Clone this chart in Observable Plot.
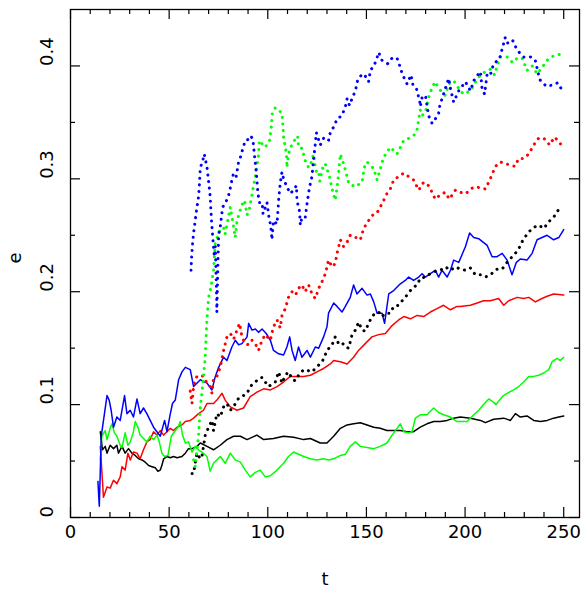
<!DOCTYPE html>
<html><head><meta charset="utf-8">
<script src="https://cdn.jsdelivr.net/npm/d3@7"></script>
<script src="https://cdn.jsdelivr.net/npm/@observablehq/plot@0.6"></script>
<style>body{margin:0;background:#fff}</style>
</head><body><div id="chart"></div>
<script>
const xMajorTicks = [0, 50, 100, 150, 200, 250];
const xMinorTicks = [10, 20, 30, 40, 60, 70, 80, 90, 110, 120, 130, 140, 160, 170, 180, 190, 210, 220, 230, 240];
const yMajorTicks = [0, 0.1, 0.2, 0.3, 0.4];
const yMinorTicks = [0.05, 0.15, 0.25, 0.35];
const xLabel = "t";
const yLabel = "e";

const blueSolid = [[13.9,0.032],[14.6,0.010],[15.6,0.072],[18.5,0.108],[19.6,0.104],[20.6,0.095],[21.8,0.080],[23.5,0.089],[25.2,0.086],[27.4,0.108],[28.6,0.092],[30.3,0.095],[31.9,0.089],[33.7,0.105],[35.3,0.092],[37.0,0.097],[38.7,0.092],[40.4,0.086],[42.1,0.080],[43.8,0.076],[45.5,0.072],[47.7,0.086],[48.9,0.076],[50.6,0.092],[51.7,0.101],[53.1,0.104],[54.8,0.122],[56.5,0.129],[58.2,0.133],[60.7,0.131],[62.4,0.116],[65.8,0.122],[69.2,0.119],[71.7,0.113],[73.4,0.125],[75.1,0.133],[77.6,0.142],[79.3,0.139],[81.8,0.151],[83.5,0.157],[85.2,0.153],[86.9,0.154],[89.5,0.160],[90.3,0.172],[92.0,0.166],[93.7,0.167],[95.3,0.164],[97.1,0.167],[99.2,0.163],[101.3,0.157],[102.9,0.148],[105.5,0.145],[108.0,0.144],[109.7,0.151],[111.1,0.160],[112.3,0.148],[113.9,0.139],[115.6,0.151],[117.3,0.142],[119.9,0.148],[121.6,0.142],[124.1,0.151],[125.8,0.150],[128.3,0.160],[130.0,0.169],[130.8,0.181],[133.4,0.190],[135.1,0.187],[137.6,0.182],[139.3,0.187],[141.8,0.195],[143.5,0.206],[145.2,0.198],[147.8,0.203],[150.3,0.197],[152.0,0.198],[153.7,0.191],[155.4,0.181],[157.9,0.181],[159.2,0.172],[161.3,0.198],[163.8,0.201],[167.2,0.207],[169.7,0.210],[171.4,0.213],[173.9,0.210],[176.5,0.213],[178.2,0.216],[179.9,0.213],[182.4,0.216],[184.9,0.219],[186.6,0.213],[188.3,0.219],[190.9,0.213],[192.6,0.219],[194.2,0.228],[196.8,0.226],[200.2,0.240],[202.3,0.252],[204.4,0.248],[206.9,0.247],[209.1,0.244],[211.2,0.241],[213.7,0.231],[216.2,0.231],[218.8,0.234],[221.3,0.228],[223.8,0.215],[226.0,0.226],[228.0,0.229],[231.4,0.228],[234.0,0.234],[236.5,0.246],[239.0,0.248],[241.6,0.250],[244.9,0.246],[247.5,0.248],[250.0,0.255]];

const redSolid = [[15.1,0.063],[16.7,0.018],[18.5,0.027],[20.1,0.026],[21.8,0.033],[23.5,0.030],[25.2,0.036],[26.1,0.045],[27.7,0.042],[29.1,0.057],[30.3,0.051],[31.9,0.058],[33.7,0.057],[35.3,0.052],[37.0,0.060],[38.7,0.067],[40.4,0.069],[42.1,0.076],[43.8,0.073],[45.5,0.077],[47.2,0.073],[48.9,0.076],[50.6,0.079],[52.2,0.077],[54.0,0.080],[56.5,0.082],[58.2,0.085],[60.7,0.086],[62.4,0.088],[64.9,0.092],[67.4,0.095],[69.2,0.101],[72.5,0.101],[74.2,0.104],[76.8,0.110],[78.4,0.104],[81.0,0.098],[84.4,0.095],[87.7,0.097],[91.1,0.107],[94.5,0.111],[97.9,0.114],[101.3,0.113],[104.7,0.116],[108.0,0.120],[111.4,0.125],[114.8,0.125],[118.2,0.125],[121.6,0.126],[124.9,0.129],[128.3,0.132],[131.7,0.136],[133.4,0.139],[136.8,0.138],[140.2,0.136],[143.5,0.142],[146.0,0.148],[149.4,0.154],[152.8,0.160],[156.2,0.162],[159.6,0.163],[163.0,0.170],[166.3,0.175],[168.9,0.178],[172.3,0.176],[175.7,0.179],[179.0,0.178],[182.4,0.182],[185.8,0.185],[189.1,0.188],[192.6,0.184],[195.9,0.187],[197.6,0.187],[202.7,0.188],[206.1,0.190],[209.4,0.192],[212.8,0.192],[217.0,0.194],[219.6,0.188],[222.1,0.192],[226.4,0.195],[229.7,0.194],[232.3,0.195],[235.6,0.191],[239.0,0.194],[241.6,0.196],[244.9,0.198],[250.0,0.197]];

const blackSolid = [[15.1,0.076],[16.2,0.060],[17.6,0.063],[18.5,0.057],[20.1,0.064],[21.8,0.061],[23.5,0.064],[24.3,0.057],[26.1,0.063],[27.7,0.057],[29.4,0.061],[31.1,0.057],[32.8,0.055],[34.5,0.052],[36.2,0.051],[37.9,0.049],[39.6,0.046],[41.3,0.045],[43.0,0.044],[44.3,0.041],[45.5,0.042],[46.3,0.046],[47.2,0.052],[48.9,0.054],[50.6,0.053],[52.2,0.054],[54.0,0.053],[56.5,0.054],[58.2,0.057],[59.8,0.061],[61.6,0.061],[64.1,0.063],[65.8,0.066],[69.2,0.063],[72.5,0.060],[75.9,0.064],[79.3,0.069],[82.7,0.072],[86.1,0.072],[89.5,0.069],[94.5,0.073],[97.9,0.069],[102.9,0.070],[108.0,0.072],[113.1,0.071],[118.2,0.069],[121.6,0.070],[126.6,0.066],[130.0,0.066],[133.4,0.072],[136.8,0.079],[140.2,0.082],[143.5,0.083],[146.9,0.084],[150.3,0.082],[153.7,0.080],[157.0,0.079],[160.4,0.077],[167.2,0.077],[170.6,0.076],[173.9,0.076],[177.3,0.080],[180.7,0.083],[184.1,0.085],[187.5,0.085],[190.9,0.086],[194.2,0.088],[197.6,0.089],[202.7,0.088],[207.8,0.086],[210.3,0.084],[214.5,0.087],[219.6,0.088],[223.0,0.086],[225.5,0.092],[228.0,0.089],[231.4,0.090],[234.8,0.086],[238.2,0.085],[241.6,0.086],[244.9,0.088],[247.5,0.089],[250.0,0.090]];

const greenSolid = [[15.1,0.051],[15.9,0.072],[17.6,0.077],[18.5,0.069],[20.1,0.079],[21.0,0.083],[22.3,0.075],[23.5,0.072],[25.2,0.064],[26.1,0.062],[27.7,0.075],[29.1,0.064],[30.3,0.067],[31.9,0.076],[32.8,0.085],[34.2,0.080],[35.3,0.073],[37.0,0.070],[38.7,0.067],[40.4,0.072],[42.1,0.069],[43.8,0.073],[45.0,0.067],[46.3,0.057],[47.7,0.054],[49.4,0.055],[51.1,0.072],[52.7,0.076],[54.5,0.080],[55.6,0.085],[56.8,0.073],[58.2,0.066],[59.8,0.067],[61.6,0.058],[63.2,0.063],[64.9,0.060],[66.6,0.058],[69.2,0.054],[70.8,0.041],[72.5,0.048],[75.9,0.054],[78.4,0.048],[81.0,0.057],[83.5,0.051],[86.1,0.049],[88.6,0.042],[91.1,0.036],[93.7,0.040],[96.2,0.042],[98.7,0.036],[101.3,0.037],[104.7,0.042],[108.0,0.048],[110.5,0.054],[113.1,0.058],[115.6,0.056],[118.2,0.054],[121.6,0.052],[124.9,0.051],[128.3,0.052],[130.8,0.051],[133.4,0.052],[136.8,0.055],[139.3,0.056],[141.8,0.063],[144.4,0.067],[146.9,0.063],[150.3,0.062],[153.7,0.061],[157.0,0.063],[160.4,0.066],[163.0,0.073],[165.5,0.079],[167.2,0.083],[168.9,0.076],[171.4,0.075],[173.1,0.076],[174.8,0.088],[177.3,0.091],[180.7,0.091],[184.1,0.097],[186.6,0.093],[189.1,0.091],[192.6,0.089],[195.9,0.085],[197.6,0.085],[201.0,0.085],[204.4,0.091],[206.9,0.095],[209.4,0.100],[212.0,0.105],[214.5,0.102],[215.7,0.100],[218.8,0.107],[221.3,0.110],[224.6,0.113],[227.2,0.116],[229.7,0.120],[232.3,0.125],[234.8,0.125],[237.3,0.126],[239.9,0.128],[242.4,0.131],[244.1,0.138],[246.7,0.141],[248.3,0.139],[250.0,0.142]];

const blackDotted = [[61.6,0.039],[62.4,0.039],[63.2,0.048],[64.1,0.057],[65.8,0.052],[66.6,0.054],[68.3,0.073],[70.0,0.080],[71.7,0.086],[72.5,0.077],[74.2,0.092],[75.9,0.089],[77.6,0.098],[79.3,0.101],[81.0,0.095],[82.7,0.098],[84.4,0.104],[86.1,0.107],[87.7,0.108],[89.5,0.110],[91.1,0.116],[93.7,0.120],[95.3,0.123],[97.1,0.124],[98.7,0.120],[100.4,0.116],[102.1,0.118],[103.8,0.120],[105.5,0.129],[107.2,0.119],[108.9,0.126],[110.5,0.129],[112.3,0.123],[113.9,0.121],[115.6,0.126],[118.2,0.131],[120.7,0.130],[122.4,0.129],[124.1,0.132],[125.8,0.135],[127.5,0.138],[128.7,0.142],[130.0,0.148],[132.6,0.153],[134.2,0.160],[135.9,0.154],[137.6,0.155],[139.3,0.151],[141.0,0.150],[142.7,0.162],[144.4,0.166],[146.0,0.173],[147.8,0.166],[149.4,0.165],[151.1,0.172],[152.8,0.178],[154.5,0.181],[156.2,0.182],[157.9,0.178],[159.6,0.181],[162.1,0.181],[163.8,0.187],[166.3,0.188],[168.1,0.192],[170.6,0.197],[173.1,0.203],[175.7,0.206],[177.3,0.212],[179.9,0.213],[182.4,0.216],[184.9,0.218],[187.5,0.219],[190.0,0.222],[192.6,0.219],[195.1,0.222],[197.6,0.220],[200.2,0.219],[202.7,0.221],[205.2,0.215],[207.8,0.215],[210.3,0.213],[212.8,0.215],[216.2,0.220],[218.8,0.220],[222.1,0.228],[224.6,0.232],[227.2,0.238],[229.4,0.246],[232.3,0.253],[234.8,0.257],[237.3,0.259],[239.9,0.256],[242.4,0.262],[244.9,0.266],[247.5,0.273]];

const redDotted = [[60.7,0.112],[61.6,0.101],[62.4,0.116],[63.2,0.122],[64.1,0.125],[65.8,0.126],[67.4,0.125],[69.2,0.119],[70.8,0.116],[71.7,0.110],[72.5,0.123],[74.2,0.125],[75.9,0.133],[77.6,0.148],[79.3,0.160],[81.0,0.163],[82.7,0.158],[84.4,0.166],[85.7,0.172],[86.9,0.160],[88.6,0.154],[90.3,0.153],[92.0,0.157],[93.7,0.154],[95.3,0.148],[97.1,0.157],[98.7,0.162],[101.3,0.157],[102.9,0.169],[104.7,0.175],[106.3,0.168],[107.2,0.179],[108.9,0.185],[110.5,0.195],[112.3,0.200],[114.0,0.197],[115.6,0.203],[117.3,0.206],[118.9,0.200],[120.7,0.206],[122.4,0.198],[124.1,0.194],[125.8,0.203],[127.5,0.209],[129.2,0.216],[130.8,0.228],[132.6,0.222],[134.2,0.225],[135.1,0.234],[136.8,0.246],[138.4,0.240],[140.2,0.244],[141.8,0.250],[143.5,0.248],[145.2,0.248],[146.9,0.246],[148.6,0.256],[151.1,0.263],[153.7,0.269],[155.4,0.270],[157.9,0.278],[160.4,0.287],[162.1,0.291],[163.8,0.299],[166.3,0.302],[168.9,0.305],[171.4,0.302],[173.9,0.299],[176.5,0.290],[179.0,0.297],[181.5,0.294],[183.3,0.288],[184.9,0.282],[187.5,0.286],[190.0,0.288],[192.0,0.282],[195.1,0.290],[197.6,0.288],[200.5,0.287],[202.7,0.291],[205.2,0.293],[207.8,0.292],[210.3,0.291],[212.5,0.299],[215.4,0.311],[217.9,0.315],[221.3,0.313],[225.2,0.311],[227.2,0.318],[229.7,0.318],[232.3,0.322],[234.8,0.330],[237.3,0.336],[239.9,0.336],[242.9,0.330],[245.3,0.337],[247.0,0.334],[248.8,0.330]];

const greenDotted = [[62.4,0.051],[63.2,0.045],[64.1,0.060],[64.9,0.072],[65.8,0.098],[66.6,0.110],[67.4,0.125],[68.3,0.142],[68.7,0.159],[69.2,0.176],[70.0,0.195],[71.2,0.204],[72.5,0.219],[73.4,0.243],[75.6,0.254],[77.6,0.257],[78.4,0.251],[81.0,0.275],[82.7,0.257],[83.5,0.248],[84.4,0.263],[86.9,0.277],[88.2,0.281],[89.5,0.268],[90.8,0.274],[91.6,0.282],[92.8,0.294],[93.7,0.302],[94.2,0.308],[95.3,0.321],[95.7,0.334],[97.1,0.331],[98.7,0.328],[100.9,0.334],[101.8,0.346],[102.3,0.358],[103.8,0.363],[105.5,0.361],[107.2,0.358],[107.5,0.350],[107.7,0.345],[108.0,0.337],[109.4,0.323],[109.7,0.310],[110.5,0.322],[112.3,0.331],[115.1,0.338],[115.6,0.328],[117.3,0.327],[119.0,0.316],[120.7,0.310],[122.4,0.316],[123.2,0.322],[124.1,0.310],[124.9,0.305],[125.8,0.306],[126.3,0.298],[128.3,0.313],[129.2,0.313],[131.3,0.302],[132.6,0.291],[134.2,0.281],[135.4,0.296],[136.8,0.322],[138.1,0.315],[139.3,0.308],[141.0,0.296],[144.4,0.293],[147.8,0.297],[148.9,0.310],[150.3,0.315],[153.7,0.309],[155.4,0.299],[158.7,0.319],[162.1,0.328],[165.5,0.322],[168.9,0.334],[173.1,0.337],[174.8,0.340],[175.7,0.344],[177.3,0.361],[178.2,0.356],[179.9,0.359],[181.5,0.372],[183.3,0.381],[184.9,0.386],[186.6,0.380],[190.0,0.374],[191.7,0.384],[194.2,0.387],[197.6,0.378],[199.3,0.375],[202.7,0.378],[204.4,0.383],[206.1,0.388],[207.8,0.392],[211.2,0.396],[212.8,0.397],[215.0,0.392],[216.2,0.400],[217.9,0.408],[221.3,0.408],[224.1,0.403],[226.4,0.407],[228.9,0.407],[231.4,0.396],[234.0,0.400],[236.5,0.393],[239.6,0.400],[241.6,0.405],[244.9,0.409],[247.5,0.410],[249.7,0.411]];

const blueDotted = [[61.1,0.219],[61.4,0.231],[61.9,0.243],[62.4,0.252],[63.2,0.263],[64.1,0.275],[64.9,0.284],[65.4,0.296],[65.8,0.310],[66.9,0.315],[67.8,0.322],[69.2,0.310],[70.3,0.293],[70.8,0.284],[71.2,0.271],[71.7,0.257],[72.2,0.246],[72.9,0.231],[73.4,0.240],[73.9,0.207],[74.2,0.182],[74.6,0.215],[75.1,0.251],[75.9,0.257],[77.1,0.275],[78.4,0.278],[80.1,0.285],[81.0,0.292],[81.8,0.299],[82.7,0.305],[84.0,0.302],[85.2,0.315],[86.1,0.319],[87.4,0.327],[88.6,0.334],[90.3,0.335],[91.5,0.338],[92.5,0.334],[93.3,0.320],[94.2,0.305],[95.0,0.287],[95.8,0.279],[97.1,0.279],[97.6,0.269],[99.6,0.279],[100.4,0.268],[101.3,0.260],[101.8,0.253],[102.1,0.246],[102.9,0.263],[104.7,0.260],[105.5,0.281],[106.3,0.296],[107.2,0.306],[108.0,0.300],[109.7,0.293],[111.4,0.287],[113.1,0.290],[114.5,0.294],[114.8,0.281],[116.1,0.271],[116.5,0.259],[117.3,0.266],[119.0,0.266],[119.9,0.278],[121.2,0.293],[122.4,0.302],[123.2,0.317],[124.1,0.331],[124.6,0.341],[126.6,0.330],[128.3,0.336],[129.2,0.334],[130.8,0.334],[131.7,0.341],[133.4,0.346],[135.1,0.353],[137.6,0.356],[139.3,0.364],[140.2,0.371],[141.4,0.365],[142.7,0.371],[144.4,0.378],[145.5,0.387],[147.8,0.393],[149.4,0.391],[151.1,0.386],[152.0,0.396],[153.7,0.400],[155.0,0.405],[156.2,0.412],[157.9,0.405],[160.8,0.402],[163.0,0.407],[165.5,0.407],[167.5,0.397],[168.1,0.393],[170.6,0.384],[172.6,0.392],[173.6,0.383],[175.3,0.380],[177.0,0.369],[177.3,0.364],[178.2,0.372],[179.9,0.374],[181.5,0.356],[183.3,0.349],[184.9,0.353],[186.6,0.358],[187.1,0.364],[188.3,0.371],[191.7,0.389],[192.6,0.380],[194.2,0.368],[196.8,0.378],[200.2,0.386],[202.7,0.378],[204.4,0.387],[206.4,0.392],[207.8,0.395],[208.6,0.380],[209.9,0.375],[211.2,0.393],[212.8,0.392],[214.5,0.402],[217.4,0.406],[218.8,0.415],[220.3,0.425],[221.3,0.420],[224.0,0.423],[226.4,0.414],[229.7,0.408],[233.1,0.408],[235.6,0.405],[237.8,0.388],[241.2,0.382],[244.1,0.383],[247.0,0.385],[248.7,0.380]];

const W = 583, H = 592, mL = 70, mR = 4, mT = 9, mB = 75;
const innerW = W - mL - mR, innerH = H - mT - mB;
const major = 10, minor = 5;
const px = d => d[0], py = d => d[1];

const solid = (data, color) => Plot.line(data, {x: px, y: py, stroke: color, strokeWidth: 1.5});
const dotted = (data, color) => Plot.line(data, {x: px, y: py, stroke: color, strokeWidth: 3, strokeDasharray: "0.1,6.5", strokeLinecap: "round"});

const chart = Plot.plot({
  width: W, height: H,
  marginLeft: mL, marginRight: mR, marginTop: mT, marginBottom: mB,
  style: {fontFamily: "DejaVu Sans", fontSize: "18px", background: "white", color: "black"},
  x: {domain: [0, 258], axis: null},
  y: {domain: [0, 0.45], axis: null},
  marks: [
    solid(blackSolid, "#000000"),
    solid(redSolid, "#ff0000"),
    solid(greenSolid, "#00ff00"),
    solid(blueSolid, "#0000ff"),
    dotted(blackDotted, "#000000"),
    dotted(redDotted, "#ff0000"),
    dotted(greenDotted, "#00ff00"),
    dotted(blueDotted, "#0000ff"),
    Plot.frame({stroke: "black", strokeWidth: 1.3}),
    Plot.tickX(xMajorTicks, {x: d => d, insetTop: innerH - major, stroke: "black", strokeWidth: 1.2}),
    Plot.tickX(xMajorTicks, {x: d => d, insetBottom: innerH - major, stroke: "black", strokeWidth: 1.2}),
    Plot.tickX(xMinorTicks, {x: d => d, insetTop: innerH - minor, stroke: "black", strokeWidth: 1.2}),
    Plot.tickX(xMinorTicks, {x: d => d, insetBottom: innerH - minor, stroke: "black", strokeWidth: 1.2}),
    Plot.tickY(yMajorTicks, {y: d => d, insetRight: innerW - major, stroke: "black", strokeWidth: 1.2}),
    Plot.tickY(yMajorTicks, {y: d => d, insetLeft: innerW - major, stroke: "black", strokeWidth: 1.2}),
    Plot.tickY(yMinorTicks, {y: d => d, insetRight: innerW - minor, stroke: "black", strokeWidth: 1.2}),
    Plot.tickY(yMinorTicks, {y: d => d, insetLeft: innerW - minor, stroke: "black", strokeWidth: 1.2}),
    Plot.text(xMajorTicks, {x: d => d, frameAnchor: "bottom", dy: 20, text: d => String(d), fill: "black", letterSpacing: "0.5px"}),
    Plot.text(yMajorTicks, {y: d => d, frameAnchor: "left", dx: -23, rotate: -90, text: d => String(d), fill: "black", letterSpacing: "0.5px"}),
    Plot.text([xLabel], {frameAnchor: "bottom", dy: 67, text: d => d, fill: "black"}),
    Plot.text([yLabel], {frameAnchor: "left", dx: -55, rotate: -90, text: d => d, fill: "black"})
  ]
});
document.getElementById("chart").appendChild(chart);
</script>
</body></html>
